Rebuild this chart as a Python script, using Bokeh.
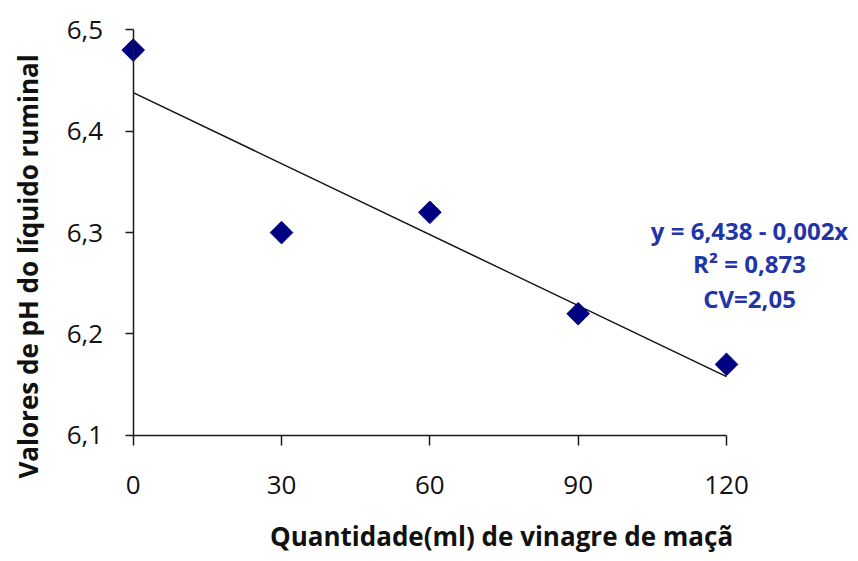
import numpy as np
from bokeh.plotting import figure
from bokeh.models import ColumnDataSource, FixedTicker, Label
from bokeh.embed import file_html
from bokeh.resources import INLINE

# ---- data ----
vinegar_ml = [0, 30, 60, 90, 120]
ph_values = [6.48, 6.30, 6.32, 6.22, 6.17]

x_ticks = [0, 30, 60, 90, 120]
x_tick_labels = ["0", "30", "60", "90", "120"]
y_ticks = [6.1, 6.2, 6.3, 6.4, 6.5]
y_tick_labels = ["6,1", "6,2", "6,3", "6,4", "6,5"]

x_label = "Quantidade(ml) de vinagre de maçã"
y_label = "Valores de pH do líquido ruminal"
eq_lines = ["y = 6,438 - 0,002x", "R² = 0,873", "CV=2,05"]

# regression line computed from the data
slope, intercept = np.polyfit(vinegar_ml, ph_values, 1)
fit_x = [min(vinegar_ml), max(vinegar_ml)]
fit_y = [intercept + slope * v for v in fit_x]

FONT = "Open Sans"
BLUE = "#1f35a8"
INK = "#111111"

p = figure(width=850, height=553, x_range=(-26.84, 145.08), y_range=(5.9835, 6.5289),
           output_backend="svg", toolbar_location=None,
           min_border_left=0, min_border_right=0, min_border_top=0,
           min_border_bottom=0)
p.outline_line_color = None
p.xgrid.visible = False
p.ygrid.visible = False
p.background_fill_color = "white"
p.border_fill_color = "white"

# axes (placed at x=0 / y=6.1 inside the frame)
for ax in (p.xaxis[0], p.yaxis[0]):
    ax.axis_line_color = "#1a1a1a"
    ax.axis_line_width = 1.5
    ax.major_tick_line_color = "#1a1a1a"
    ax.major_tick_line_width = 1.5
    ax.major_tick_in = 0
    ax.minor_tick_line_color = None
    ax.major_label_text_font = FONT
    ax.major_label_text_font_size = "26px"
    ax.major_label_text_color = INK

p.xaxis.ticker = FixedTicker(ticks=x_ticks)
p.xaxis.major_label_overrides = dict(zip(x_ticks, x_tick_labels))
p.xaxis.bounds = (x_ticks[0], x_ticks[-1])
p.xaxis.fixed_location = y_ticks[0]
p.xaxis.major_tick_out = 10
p.xaxis.major_label_standoff = 31

p.yaxis.ticker = FixedTicker(ticks=y_ticks)
p.yaxis.major_label_overrides = dict(zip(y_ticks, y_tick_labels))
p.yaxis.bounds = (y_ticks[0], y_ticks[-1])
p.yaxis.fixed_location = x_ticks[0]
p.yaxis.major_tick_out = 8
p.yaxis.major_label_standoff = 22

# regression line
p.line(fit_x, fit_y, line_color=INK, line_width=1.5)

# points
src = ColumnDataSource(dict(x=vinegar_ml, y=ph_values))
p.scatter("x", "y", source=src, marker="square", angle=np.pi / 4, size=16,
          fill_color="#000080", line_color="#000080")

# axis titles
p.add_layout(Label(x=74.5, y=6.0003, text=x_label, text_font=FONT,
                   text_font_style="bold", text_font_size="26px",
                   text_align="center", text_baseline="middle",
                   text_color=INK))
p.add_layout(Label(x=-21.2, y=6.2666, text=y_label, text_font=FONT,
                   text_font_style="bold", text_font_size="26px",
                   text_align="center", text_baseline="middle", angle=np.pi / 2,
                   text_color=INK))

# equation annotation
for txt, yy in zip(eq_lines, [6.3021, 6.2695, 6.2349]):
    p.add_layout(Label(x=124.66, y=yy, text=txt, text_font=FONT,
                       text_font_style="bold", text_font_size="24px",
                       text_align="center", text_baseline="middle",
                       text_color=BLUE))

open("out.html", "w").write(file_html(p, INLINE))
